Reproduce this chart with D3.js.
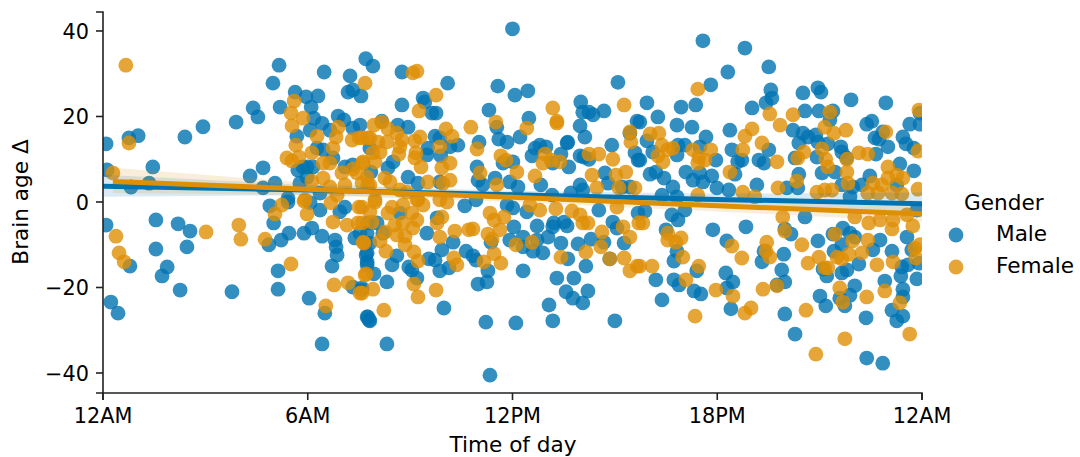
<!DOCTYPE html>
<html><head><meta charset="utf-8">
<script src="https://cdn.jsdelivr.net/npm/d3@7/dist/d3.min.js"></script>
<style>html,body{margin:0;padding:0;background:#fff;overflow:hidden}svg{display:block}text{font-family:"DejaVu Sans",sans-serif;fill:#000}</style>
</head><body><svg id="c" width="1080" height="457"></svg>
<script>
const xTickValues=[0,6,12,18,24];
const xTickLabels=["12AM","6AM","12PM","18PM","12AM"];
const yTickValues=[-40,-20,0,20,40];
const seriesNames=["Male","Female"];
const seriesColors=["#0173b2","#de8f05"];
const malePoints=[[.09,13.6],[.76,15],[1.03,15.5],[2.4,15.2],[2.93,17.6],[3.9,18.7],[4.4,22],[4.54,19.9],[4.98,27.8],[5.16,32],[5.19,22.2],[5.63,25.7],[5.95,24.6],[6.3,24.8],[6.1,22.2],[6.48,30.4],[7.24,29.5],[7.18,25.7],[7.32,26.2],[7.56,24.8],[7.7,33.5],[6.89,20.1],[7.06,19.2],[6.18,19.6],[6.42,18.4],[7.53,18],[7.32,17.3],[5.68,15.4],[6.07,16.8],[6.65,16.8],[6.27,12.6],[6.45,12.2],[6.74,10.3],[5.98,8.2],[5.71,7.5],[7.32,8.7],[7.09,8.2],[7.82,12.6],[.12,7.5],[1.46,8.2],[4.69,8],[4.31,6.1],[.82,3.5],[1.35,4.4],[4.69,3.3],[5.04,4.4],[5.77,4.4],[5.42,.9],[6.36,2.1],[5.98,5.8],[5.86,8.2],[6.15,8.2],
[.09,-5.4],[1.55,-4.2],[2.2,-5.1],[2.55,-6.8],[1.55,-11],[2.46,-10.5],[.79,-15],[1.88,-15.2],[1.73,-17.3],[2.26,-20.6],[3.78,-21],[.23,-23.4],[.44,-26],[4.89,-.9],[5.42,0],[5,-4.9],[5.45,-7.3],[5.22,-8.9],[4.86,-10],[5.89,-7.3],[6.12,-6.1],[6.42,-8],[6.8,-8.9],[6.83,-10.5],[6.86,-12.4],[6.71,-15],[5.13,-16.1],[5.13,-20.4],[6.04,-22.5],[6.5,-26],[6.42,-33.2],[7.74,-26.9],[7.8,-27.6],[7.32,-19.9],[7.59,-20.1],[7.74,-14],[7.74,-11.9],[7.68,-9.6],[7.38,-8.4],[6.36,-1.9],[7.09,-1.2],[6.07,-.2],[6.94,-2.3],[7.53,-7.3],[7.76,-4.9],
[12,40.5],[7.91,31.8],[8.76,30.4],[10.1,27.8],[11.57,27.1],[12.07,25],[12.45,26],[15.09,28],[8.76,22.7],[9.38,24.3],[9.43,23.4],[9.64,20.8],[9.76,20.8],[11.31,21.5],[14,23.4],[14.06,21],[14.24,21],[14.36,20.4],[14.68,21.3],[13.98,17.8],[14.12,15.2],[12.48,19.6],[11.54,17.5],[15.65,18.9],[15.44,16.1],[8.17,18.9],[8.64,18],[8.94,17.5],[9.73,15.4],[9.87,15],[10.4,13.3],[10.17,12.9],[9.52,12.6],[9.49,11],[9.9,10.8],[11.02,14],[11.6,14.7],[11.84,14],[12.22,15.2],[13.62,14],[13.6,13.8],[14.91,13.3],[12.8,13.3],[12.66,12.6],[12.98,12.9],[12.57,10.8],[13.42,11.2],[13.18,9.1],[13.65,8.2],[13.98,10.8],[14.09,10.5],[14.24,10],[15.59,11.5],[15.68,9.8],[8.5,9.4],[8.35,8],[7.85,7],[8.94,5.8],[9.23,4.4],[9.87,4.7],[10.96,8.2],[11.72,9.1],[12.01,9.4],[10.99,5.1],[11.13,4],[11.49,5.6],[11.92,4.7],[12.16,3.5],[12.83,4],[13.16,1.6],[13.71,2.1],[13.98,4],[14.06,2.8],[14.71,6.8],[14.8,4.4],[15.21,3.5],[15.44,3.5],
[10.6,-.9],[10.93,.5],[11.84,-.7],[12.42,-2.3],[12.01,-1.4],[14.53,-1.9],[12.04,-5.8],[12.72,-5.6],[13.21,-4.9],[13.51,-4.7],[13.6,-5.6],[13.18,-5.8],[14.94,-4.7],[15.06,-6.1],[15.68,-2.6],[9.49,-7.3],[9.79,-3.7],[10.26,-9.4],[11.37,-9.4],[11.92,-8.9],[12.31,-8.2],[12.72,-8.9],[13.04,-8.2],[13.42,-9.6],[13.92,-9.8],[14.3,-8.7],[14.68,-9.4],[15.27,-9.6],[12.31,-10.5],[12.6,-11.5],[12.89,-11.9],[13.62,-13.3],[14.15,-15],[14.85,-13.3],[10.64,-11.5],[10.84,-12.6],[10.93,-13.6],[9.93,-11.2],[9.73,-13.6],[9.55,-13.3],[9.87,-16.1],[10.14,-15.4],[11.28,-16.1],[11.25,-18.7],[10.99,-19.2],[12.31,-16.1],[13.3,-17.8],[13.8,-17.8],[13.57,-21],[13.77,-22.5],[14.21,-20.8],[14.06,-23.6],[13.07,-24.1],[13.18,-27.8],[12.1,-28.3],[11.22,-28.1],[9.99,-24.8],[15,-27.8],[11.34,-40.5],[8.32,-33.2],[7.76,-26.9],[7.82,-27.8],[8.32,-18.7],[7.59,-20.6],[7.94,-16.8],[7.74,-14.7],[7.71,-12.4],[8.47,-14.7],[8.61,-12.6],[8.96,-15.2],[9.05,-15.9],[9.2,-17.8],[7.74,-7.3],[8.03,-4.9],[8.7,-2.6],[8.2,-7.3],[7.82,-9.6],
[17.58,37.7],[18.81,36],[18.31,30.4],[19.51,31.6],[17.81,27.4],[15.94,23.2],[16.94,22.2],[17.37,22.7],[19.02,22],[19.57,26.2],[19.6,24.3],[19.43,23.2],[20.51,25.5],[20.95,26.7],[21.04,25.7],[21.92,23.9],[22.94,23.2],[20.57,21.3],[20.98,21.3],[21.39,21.3],[21.3,19.2],[16.26,19.9],[16.82,18],[17.26,17.5],[15.73,18.7],[17.67,15.2],[18.37,16.8],[20.22,16.8],[20.51,16.1],[20.66,15.2],[20.89,15.7],[20.39,13.8],[20.95,14],[21.24,13.6],[21.62,12.9],[21.65,11.7],[22.38,18.2],[22.53,18.9],[23.64,18.2],[23.94,18.2],[23.94,20.8],[22.85,16.4],[22.62,15],[22.74,14.7],[23,12.9],[23.44,15.2],[23.53,13.6],[23.76,12.6],[22.65,11.2],[17.05,13.3],[16.85,13.3],[16.82,11],[15.94,14.3],[16.11,11.7],[15.73,9.8],[17.49,12.9],[18.43,12.2],[18.72,9.8],[18.6,9.4],[17.96,9.8],[19.51,12.2],[19.22,9.8],[19.37,9.1],[20.28,10.3],[20.92,10.5],[21.79,10.3],[16.03,6.5],[16.2,7],[16.44,5.6],[16.7,3.5],[17.08,7],[17.29,5.1],[17.49,6.8],[17.84,6.1],[17.58,4.7],[17.99,3.3],[18.52,6.5],[18.34,2.8],[19.16,4],[20.39,6.5],[20.36,3.3],[20.04,3.3],[21.07,6.8],[21.45,7],[22.47,6.1],[21.65,4],[21.97,3.5],[22.24,4],[23.35,8.9],[23.76,7.3],[23.26,4],[16.38,1.6],[16.82,1.2],[21.89,1.2],
[17.87,-6.5],[18.84,-5.8],[20.57,-3.5],[16.5,-6.5],[18.28,-9.1],[20.16,-7.5],[19.98,-6.3],[20.95,-9.1],[21.39,-7.5],[21.68,-6.1],[21.89,-7.3],[22.03,-8.2],[22.77,-8.9],[22.56,-11.2],[21.65,-10],[21.42,-11.5],[23.12,-11.5],[23.56,-8.2],[23.85,-1.9],[16.82,-11.5],[16.73,-13.8],[19.37,-11.5],[19.31,-14],[19.95,-12.2],[19.89,-15.9],[17.4,-16.1],[18.25,-16.6],[18.46,-18.7],[18.28,-20.1],[16.2,-18.2],[16.73,-18.2],[16.88,-19.4],[17.32,-20.8],[17.52,-21.5],[16.38,-22.9],[18.4,-25],[19.75,-19.4],[19.98,-18.7],[19.98,-26.2],[20.28,-30.9],[21.01,-22],[21.18,-24.3],[21.89,-21.8],[21.59,-22.5],[21.74,-24.3],[22.03,-19.6],[22.91,-18.5],[23.44,-20.4],[23.44,-22.2],[23.12,-25.3],[23.26,-27.8],[23.44,-26.7],[22.36,-27.1],[22.38,-36.5],[22.85,-37.7],[23.85,-18],[23.38,-17.3],[23.41,-15.2],[23.59,-14.7],[22.15,-14.5],[21.8,-15.9],[21.65,-16.6],[21.21,-17.3],[21.1,-15.7],[23.91,-14.3],[23.7,-11.2],[15.88,-2.1],[16.67,-3],[16.85,-4.2],[17.05,-1.9]];
const femalePoints=[[.67,32],[.76,13.8],[.29,6.8],[5.6,23.6],[5.51,20.8],[5.86,19.6],[5.54,17.8],[6.89,17.5],[6.27,15.4],[6.83,15.2],[7.3,14.5],[7.5,15],[7.76,15],[7.68,27.8],[5.65,13.3],[6.74,12.6],[6.12,11.5],[5.39,10.3],[5.54,9.6],[5.74,10.5],[6.45,9.1],[6.65,9.1],[7,6.8],[7.32,7.7],[7.62,9.1],[7.44,6.8],[6.12,4.9],[6.45,5.6],[6.65,3.5],[7.09,4],[7.59,4.4],[7.76,4],[5.92,.5],
[.38,-8],[.47,-11.9],[.62,-14],[3.02,-7],[3.98,-5.4],[4.04,-8.7],[4.75,-8.7],[5.04,-2.8],[5.24,-.7],[5.51,-14.5],[5.89,.2],[5.98,-2.8],[6.68,-.2],[6.74,-4.7],[7.15,-5.4],[7.5,-1.2],[7.47,-4.9],[7.62,-9.4],[7.68,-17.1],[7.18,-18.9],[6.77,-19.4],[7.53,-21.3],[6.53,-24.3],[6.86,1.6],
[9.08,30.2],[9.2,30.6],[9.76,25],[9.26,21.3],[13.18,22],[13.3,18.9],[13.3,18.5],[15.27,22.7],[11.51,18.7],[10.78,17.5],[12.42,17.3],[10.05,17.1],[10.23,15.4],[8.17,18.7],[7.94,18],[8.35,17.1],[8.61,16.1],[9.29,15.2],[9.14,14.3],[15.44,16.4],[15.47,14],[7.59,15],[7.82,15],[8.06,14],[8.76,14.5],[8.32,14],[8.7,12.9],[9.87,12.9],[10.96,12.4],[7.91,11.5],[8.12,11.7],[8.67,11.2],[9.17,11.5],[9.14,10.3],[7.62,9.4],[7.97,9.4],[9.32,8.2],[10.17,9.1],[9.93,8],[11.66,10.8],[11.81,9.8],[12.13,7],[12.95,11.2],[12.89,9.1],[13.13,9.8],[13.39,9.4],[14.24,11.2],[14.53,11.2],[14.94,10],[11.05,6.8],[12.66,6.1],[14.33,6.3],[15.03,6.3],[15.32,7],[8.26,5.6],[8.41,4.7],[7.74,5.8],[7.82,4],[9.52,4.7],[10.17,5.1],[9.96,4.4],[11.54,4],[14.47,3.3],[15.12,3.3],[15.59,3.3],[8.7,2.8],[8.91,2.3],[7.97,.5],[9.23,.5],
[10.08,0],[9.87,.5],[9.38,-.7],[9.2,.5],[8.79,-.7],[8.47,-1.2],[7.97,0],[7.59,-1.2],[7.82,-2.3],[8.35,-2.6],[9.05,-2.6],[9.93,-3.5],[9.79,-4.9],[7.88,-4.7],[7.59,-4.9],[8.55,-5.4],[8.79,-4.9],[9.2,-4.2],[9.08,-6.1],[8.26,-7],[8.61,-7.7],[8.85,-8],[9.87,-8.2],[10.31,-6.8],[10.72,-6.5],[10.84,-6.3],[11.28,-7.5],[11.4,-8.7],[11.63,-6.5],[11.46,-4.2],[11.75,-3.5],[11.34,-2.6],[12.51,-.7],[12.8,-1.9],[13.27,-1.6],[13.74,-2.1],[13.98,-3],[14.06,-4.9],[14.21,-4.9],[14.62,-7],[15.24,-5.8],[15.44,-8.2],[15.7,-4.9],[15.06,-1.2],[12.1,-10],[12.57,-9.4],[7.65,-9.6],[8.12,-9.1],[8.29,-11.5],[8.85,-10],[9.11,-11.7],[9.23,-13.8],[10.28,-13.1],[10.37,-14.7],[11.16,-14],[11.46,-12.1],[11.66,-14.3],[13.42,-12.9],[14.15,-11.7],[14.59,-10.5],[14.85,-13.3],[15.27,-13.1],[15.44,-16.1],[15.65,-15],[7.71,-16.8],[7.91,-20.4],[7.59,-21.3],[9.11,-19.2],[9.23,-22.2],[9.76,-20.6],[8.23,-25.3],
[17.43,26.4],[19.54,20.6],[19.84,18],[20.22,20.4],[21.3,21],[21.15,17.5],[21.42,16.1],[21.77,16.8],[22.94,16.4],[23.91,21.5],[16.03,15.9],[16.29,16.1],[19.02,17.1],[18.81,15.4],[19.31,13.8],[18.75,12.2],[19.75,9.4],[18.37,7],[16.38,13.3],[16.7,12.6],[16.55,12.2],[16.26,10.8],[16.41,9.4],[17.29,12.2],[17.81,12.2],[17.46,10.5],[17.43,9.1],[17.64,9.8],[21.07,12.4],[20.54,11.7],[20.36,10.3],[21.18,10],[21.8,10],[21.24,8.2],[22.15,11.5],[22.41,11.2],[23.88,11.9],[21.8,7],[23,8.2],[23.26,6.3],[23.44,5.6],[23,5.6],[20.33,4.9],[21.83,4.4],[22.56,4.4],[22.82,4],[23.88,3],[19.78,3.3],[20.92,2.3],[21.15,2.8],[21.36,2.8],[17.43,1.6],[18.75,2.3],[19.1,1.2],[22.41,2.1],[22.71,2.1],[23.12,2.1],[23.41,1.9],
[15.82,-4.9],[16.55,-7.3],[16.55,-8.9],[16.79,-9.4],[16.94,-8.4],[16.99,-12.9],[16.09,-15],[15.73,-15],[17.46,-15],[17.08,-18.2],[17.96,-20.6],[18.43,-10.3],[18.72,-13.1],[18.46,-22],[18.99,-24.8],[18.81,-26],[17.35,-26.7],[19.34,-20.4],[19.75,-19.6],[19.45,-9.4],[19.43,-11.5],[19.54,-12.9],[19.98,-6.8],[19.92,-3.5],[20.48,-10],[20.66,-14.3],[20.98,-12.9],[21.15,-15.4],[21.24,-15.4],[21.45,-7.5],[21.51,-12.9],[21.65,-13.3],[21.86,-12.2],[22.24,-11.9],[21.97,-9.1],[22.41,-8.9],[22.68,-14.7],[23.15,-14],[23.79,-10.8],[23.82,-13.1],[23.94,-10],[22.03,-3.5],[22.44,-4.9],[22.77,-4.2],[23.12,-6.3],[23.15,-4.2],[23.73,-5.6],[23.56,-3],[21.59,-20.1],[21.68,-23.4],[22.38,-22.2],[22.91,-20.8],[23.35,-23.6],[23.64,-30.9],[21.74,-32],[20.6,-25.3],[20.89,-35.6]];
const maleBandHours=[0,6,12,18,24];
const maleFit=[3.7,2.8,1.7,.6,-.4];
const maleUpper=[6.4,4,2.6,1.9,2.2];
const maleLower=[1.2,1.6,.8,-.8,-2.8];
const femaleBandHours=[.29,6,12,18,24];
const femaleFit=[4.8,3,1.1,-.9,-2.8];
const femaleUpper=[8,4.5,2.2,.2,-1.2];
const femaleLower=[2.1,1.6,0,-2.2,-4.6];

const svg=d3.select("#c");
const x=d3.scaleLinear().domain([0,24]).range([103,922]);
const y=d3.scaleLinear().domain([-44.68,44.44]).range([393,12]);
svg.append("defs").append("clipPath").attr("id","plot").append("rect")
  .attr("x",x(0)).attr("y",y(44.44)).attr("width",x(24)-x(0)).attr("height",y(-44.68)-y(44.44));
const plot=svg.append("g").attr("clip-path","url(#plot)");
const R=7.4;
[malePoints,femalePoints].forEach((pts,i)=>{
  plot.append("g").selectAll("circle").data(pts).join("circle")
    .attr("cx",d=>x(d[0])).attr("cy",d=>y(d[1])).attr("r",R)
    .attr("fill",seriesColors[i]).attr("fill-opacity",.8);
});
const bands=[[maleBandHours,maleFit,maleUpper,maleLower],[femaleBandHours,femaleFit,femaleUpper,femaleLower]];
bands.forEach((b,i)=>{
  const rows=b[0].map((h,k)=>({h,f:b[1][k],u:b[2][k],l:b[3][k]}));
  plot.append("path").datum(rows)
    .attr("d",d3.area().x(d=>x(d.h)).y0(d=>y(d.l)).y1(d=>y(d.u)))
    .attr("fill",seriesColors[i]).attr("fill-opacity",.15);
});
bands.forEach((b,i)=>{
  const rows=b[0].map((h,k)=>({h,f:b[1][k]}));
  plot.append("path").datum(rows)
    .attr("d",d3.line().x(d=>x(d.h)).y(d=>y(d.f)))
    .attr("fill","none").attr("stroke",seriesColors[i]).attr("stroke-width",5);
});
const tickFont=20.8, labelFont=21.6;
const gx=svg.append("g").attr("transform",`translate(0,${y.range()[0]})`)
  .call(d3.axisBottom(x).tickValues(xTickValues).tickFormat((d,i)=>xTickLabels[i]).tickSizeOuter(0).tickSize(7).tickPadding(8).offset(0));
const gy=svg.append("g").attr("transform",`translate(${x.range()[0]},0)`)
  .call(d3.axisLeft(y).tickValues(yTickValues).tickFormat(d=>d<0?"\u2212"+Math.abs(d):d).tickSizeOuter(0).tickSize(7).tickPadding(7).offset(0));
gy.selectAll("text").attr("dy","0.38em");
[gx,gy].forEach(g=>{
  g.selectAll("text").style("font-size",tickFont+"px").style("font-family",'"DejaVu Sans"').attr("fill","#000");
  g.selectAll("line,path").attr("stroke","#222").attr("stroke-width",1.6);
});
svg.append("text").attr("x",513).attr("y",451.5).attr("text-anchor","middle").style("font-size",labelFont+"px").text("Time of day");
svg.append("text").attr("transform","translate(28,202) rotate(-90)").attr("text-anchor","middle").style("font-size",labelFont+"px").text("Brain age \u0394");
const lg=svg.append("g");
lg.append("text").attr("x",964).attr("y",210).style("font-size",labelFont+"px").text("Gender");
seriesNames.forEach((n,i)=>{
  lg.append("circle").attr("cx",956).attr("cy",235+i*32).attr("r",R).attr("fill",seriesColors[i]).attr("fill-opacity",.8);
  lg.append("text").attr("x",996).attr("y",241+i*32).style("font-size",labelFont+"px").text(n);
});
</script></body></html>
